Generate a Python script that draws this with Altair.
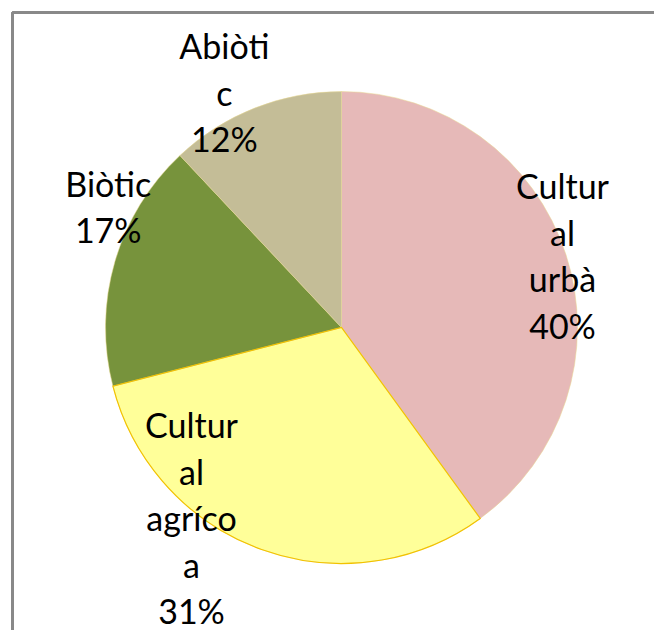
import altair as alt
import pandas as pd

categories = ["Cultural urbà", "Cultural agrícola", "Biòtic", "Abiòtic"]
values = [40, 31, 17, 12]
labels = ["Cultur\nal\nurbà\n40%", "Cultur\nal\nagríco\na\n31%", "Biòtic\n17%", "Abiòti\nc\n12%"]
colors = ["#E6B9B8", "#FFFF99", "#77933C", "#C4BD97"]

df = pd.DataFrame({"cat": categories, "val": values, "label": labels,
                   "order": list(range(len(categories)))})

W, H = 646, 622
CX, CY = 333.5, 319.5
R = 236
TR = 245
LH = 46.5

base = alt.Chart(df)

pie = base.mark_arc(stroke="#E8D890", strokeWidth=0.5).encode(
    theta=alt.Theta("val:Q", stack=True),
    order=alt.Order("order:Q"),
    color=alt.Color("cat:N", scale=alt.Scale(domain=categories, range=colors), legend=None),
    radius=alt.value(R),
    x=alt.value(CX), y=alt.value(CY),
)

# gold outline on the yellow slice only
outline = base.mark_arc(fill=None, stroke="#F2C200", strokeWidth=1.2).encode(
    theta=alt.Theta("val:Q", stack=True),
    order=alt.Order("order:Q"),
    radius=alt.value(R),
    x=alt.value(CX), y=alt.value(CY),
    strokeOpacity=alt.condition(alt.datum.cat == "Cultural agrícola", alt.value(1), alt.value(0)),
)

# label nudges (Excel "best fit" placement), block-centre relative to slice mid
offsets = {
    "Cultural urbà": (-12, 7),
    "Cultural agrícola": (-67, -37),
    "Biòtic": (2, -49),
    "Abiòtic": (-27, -4),
}

text_layers = []
for c, lab in zip(categories, labels):
    dx, dy = offsets[c]
    n = lab.count("\n") + 1
    t = base.mark_text(
        font="Lato", fontSize=34, lineBreak="\n", lineHeight=LH,
        align="center", baseline="middle", color="black",
        dx=dx, dy=dy - (n - 1) * LH / 2,
    ).encode(
        theta=alt.Theta("val:Q", stack=True),
        order=alt.Order("order:Q"),
        radius=alt.value(TR),
        x=alt.value(CX), y=alt.value(CY),
        text="label:N",
        opacity=alt.condition(alt.datum.cat == c, alt.value(1), alt.value(0)),
    )
    text_layers.append(t)

frame_top = base.mark_rule(color="#898989", strokeWidth=3).encode(
    x=alt.value(4.5), x2=alt.value(800), y=alt.value(4.5))
frame_left = base.mark_rule(color="#898989", strokeWidth=3).encode(
    x=alt.value(4.5), y=alt.value(4.5), y2=alt.value(800))

chart = alt.layer(pie, outline, *text_layers, frame_top, frame_left).properties(
    width=W, height=H, autosize=alt.AutoSizeParams(type="none"), padding=0
).configure_view(stroke=None)

chart.save("out.html", embed_options={"renderer": "svg", "actions": False})
